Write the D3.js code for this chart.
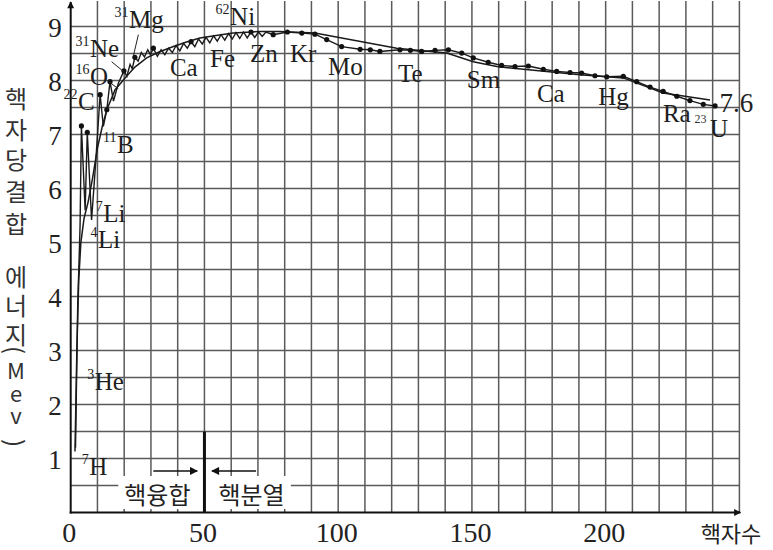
<!DOCTYPE html>
<html><head><meta charset="utf-8">
<script src="https://cdn.jsdelivr.net/npm/d3@7"></script>
<style>
html,body{margin:0;padding:0;background:#fff;}
svg{display:block;}
</style></head>
<body>
<svg id="c" width="773" height="550"></svg>
<script>
// ---------- data ----------
const xTicks = [0, 50, 100, 150, 200];
const yTicks = [1, 2, 3, 4, 5, 6, 7, 8, 9];
const xLabel = "핵자수";
const yTitleChars = ["핵","자","당","결","합","에","너","지","(","M","e","v",")"];

// smooth envelope curve
const smoothA  = [1.6,2.3,3.0,3.8,5.0,6.5,8.2,10,11.8,13.5,16.6,20.9,24,28.4,33,38.4,43,48.3,55,60.7,70.8,78,91.3,121.9,140.6,150.5,159.3,175,190.4,206.6,221.5,239];
const smoothBE = [1.13,3.0,4.3,5.0,5.45,5.75,6.2,6.75,7.15,7.46,7.83,8.08,8.25,8.42,8.53,8.63,8.71,8.79,8.84,8.88,8.91,8.91,8.88,8.6,8.51,8.35,8.26,8.18,8.11,8.05,7.77,7.64];

// measured nuclei line (zig-zag)
const dataA  = [1.8,2.6,3.5,4.0,5.4,6.2,7.8,9.3,11.0,12.2,13.5,14.7,16.0,17.8,19.9,21,22.2,23,24,25.2,26.4,27.6,28.8,29.8,30.9,
  32.4,33.8,35.2,36.6,38.0,39.4,40.8,42.2,43.6,45.0,46.4,47.8,49.2,50.6,52.0,53.4,54.8,56.2,57.6,59.0,60.4,61.8,63.2,64.6,66.0,67.4,68.8,70.2,71.6,73.0,
  75.7,81,86.4,91.3,95.7,101.3,108.2,112,115.6,123.1,127,131.2,136.2,141.2,146.2,150.5,156.1,161.1,166.1,171.1,176.7,181.7,186.7,191,196,200.4,206.6,211.6,216.6,221.5,226.6,231.5,236.5,240.9];
const dataBE = [1.2,3.8,5.3,7.16,5.6,7.04,5.42,6.45,7.74,7.15,7.46,7.98,7.62,7.95,8.18,8.08,8.3,8.22,8.43,8.36,8.52,8.44,8.57,8.48,8.6,
  8.45,8.57,8.48,8.6,8.52,8.65,8.55,8.69,8.6,8.72,8.63,8.77,8.68,8.8,8.7,8.83,8.73,8.85,8.75,8.87,8.77,8.89,8.78,8.9,8.79,8.9,8.8,8.9,8.82,8.9,
  8.85,8.9,8.88,8.86,8.76,8.63,8.58,8.57,8.54,8.57,8.56,8.54,8.56,8.57,8.51,8.42,8.34,8.28,8.26,8.27,8.21,8.17,8.15,8.14,8.09,8.07,8.08,7.98,7.88,7.80,7.71,7.63,7.56,7.53];

// marked nuclei (dots)
const dotA  = [4.0,6.2,11.0,13.5,14.7,19.9,24,30.9,45.0,67.4,75.7,81,86.4,91.3,95.7,101.3,108.2,112,115.6,123.1,127,131.2,136.2,141.2,146.2,150.5,156.1,161.1,166.1,171.1,176.7,181.7,186.7,191,196,200.4,206.6,211.6,216.6,221.5,226.6,231.5,236.5,240.9];
const dotBE = [7.16,7.04,7.74,7.46,7.98,8.18,8.43,8.6,8.72,8.9,8.85,8.9,8.88,8.86,8.76,8.63,8.58,8.57,8.54,8.57,8.56,8.54,8.56,8.57,8.51,8.42,8.34,8.28,8.26,8.27,8.21,8.17,8.15,8.14,8.09,8.07,8.08,7.98,7.88,7.80,7.71,7.63,7.56,7.53];

// element labels: name, mass-number superscript, anchor (A, BE)
const labelName = ["Ni","Mg","Ne","O","C","B","Li","Li","He","H","Ca","Fe","Zn","Kr","Mo","Te","Sm","Ca","Hg","Ra","U"];
const labelSup  = ["62","31","31","16","22","11","7","4","3","7","","","","","","","","","","",""];
const labelA    = [59.6,21.8,7.2,7.2,2.7,17.3,12.2,10.2,9.0,6.9,37.1,52.1,67.0,82.0,96.2,122.4,148.1,174.3,197.2,221.4,239.0];
const labelBE   = [9.03,8.98,8.44,7.92,7.46,6.66,5.38,4.90,2.27,0.69,8.09,8.26,8.35,8.35,8.11,7.98,7.87,7.61,7.55,7.24,6.96];
// leader lines (A1,BE1,A2,BE2)
const leaders = [[15.3,8.35,19.7,8.17],[25.3,8.85,23.4,8.45],[14.2,7.98,17.8,7.85]];

const endValue = "7.6";
const fusionText = "핵융합", fissionText = "핵분열";

// ---------- drawing ----------
const svg = d3.select("#c");
const x = d3.scaleLinear().domain([0, 250]).range([70.7, 739.4]);
const y = d3.scaleLinear().domain([0, 9]).range([512.5, 26.6]);
const topPx = 1;
const gridColor = "#5a5a5a";
const serif = "'Liberation Serif','DejaVu Serif',serif";
const kfont = "'Noto Sans CJK KR','Noto Sans',sans-serif";

const g = svg.append("g");
// grid
g.selectAll("line.v").data(d3.range(10, 251, 10)).join("line")
  .attr("x1", d => x(d)).attr("x2", d => x(d))
  .attr("y1", y(0)).attr("y2", topPx)
  .attr("stroke", gridColor).attr("stroke-width", 1.5);
g.selectAll("line.h").data(d3.range(0.5, 9.01, 0.5)).join("line")
  .attr("x1", x(0)).attr("x2", x(250))
  .attr("y1", d => y(d)).attr("y2", d => y(d))
  .attr("stroke", gridColor).attr("stroke-width", 1.5);

// white patch behind fusion/fission labels
g.append("rect").attr("x", x(17.8)).attr("y", 476).attr("width", x(82.3) - x(17.8)).attr("height", 33).attr("fill", "#fff");

// arrow markers
const defs = svg.append("defs");
defs.append("marker").attr("id", "ah").attr("viewBox", "0 0 10 10")
  .attr("refX", 9).attr("refY", 5).attr("markerWidth", 9).attr("markerHeight", 7)
  .attr("markerUnits", "userSpaceOnUse").attr("orient", "auto")
  .append("path").attr("d", "M0,0L10,5L0,10z").attr("fill", "#111");
defs.append("marker").attr("id", "ah2").attr("viewBox", "0 0 10 10")
  .attr("refX", 9).attr("refY", 5).attr("markerWidth", 10).attr("markerHeight", 8)
  .attr("markerUnits", "userSpaceOnUse").attr("orient", "auto")
  .append("path").attr("d", "M0,0L10,5L0,10z").attr("fill", "#111");

g.append("line").attr("x1", x(0)).attr("x2", x(0)).attr("y1", y(0) + 1).attr("y2", 2)
  .attr("stroke", "#111").attr("stroke-width", 2).attr("marker-end", "url(#ah)");
g.append("line").attr("x1", x(0) - 1).attr("x2", x(250) + 1).attr("y1", y(0)).attr("y2", y(0))
  .attr("stroke", "#111").attr("stroke-width", 2).attr("marker-end", "url(#ah)");

// tick labels via d3 axes
const ax = svg.append("g").attr("transform", `translate(0,${y(0)})`)
  .call(d3.axisBottom(x).tickValues(xTicks).tickSize(0).tickPadding(10).tickFormat(d3.format("d")));
ax.select(".domain").remove();
ax.selectAll("text").attr("font-family", serif).attr("font-size", 28).attr("fill", "#222").attr("dx", -2);

const ay = svg.append("g").attr("transform", `translate(${x(0)},0)`)
  .call(d3.axisLeft(y).tickValues(yTicks).tickSize(0).tickPadding(9).tickFormat(d3.format("d")));
ay.select(".domain").remove();
ay.selectAll("text").attr("font-family", serif).attr("font-size", 27).attr("fill", "#222").attr("dy", "0.38em");

// curves
const smooth = smoothA.map((a, i) => [a, smoothBE[i]]);
const meas = dataA.map((a, i) => [a, dataBE[i]]);
const line = d3.line().x(d => x(d[0])).y(d => y(d[1]));
g.append("path").attr("d", line(smooth)).attr("fill", "none").attr("stroke", "#1a1a1a").attr("stroke-width", 1.5);
g.append("path").attr("d", line(meas)).attr("fill", "none").attr("stroke", "#1a1a1a").attr("stroke-width", 1.4);
g.selectAll("circle.d").data(dotA.map((a, i) => [a, dotBE[i]])).join("circle")
  .attr("cx", d => x(d[0])).attr("cy", d => y(d[1])).attr("r", 2.6).attr("fill", "#111");

// leader lines
g.selectAll("line.ld").data(leaders).join("line")
  .attr("x1", d => x(d[0])).attr("y1", d => y(d[1])).attr("x2", d => x(d[2])).attr("y2", d => y(d[3]))
  .attr("stroke", "#222").attr("stroke-width", 1);

// element labels
labelName.forEach((n, i) => {
  const px = x(labelA[i]), py = y(labelBE[i]);
  svg.append("text").attr("x", px).attr("y", py).text(n)
    .attr("font-family", serif).attr("font-size", 25).attr("fill", "#1e1e1e");
  if (labelSup[i]) {
    svg.append("text").attr("x", px - 0.5).attr("y", py - 11).text(labelSup[i])
      .attr("text-anchor", "end").attr("font-family", serif).attr("font-size", 14).attr("fill", "#222");
  }
});
// small "23" before U and end value
svg.append("text").attr("x", x(233.2)).attr("y", y(7.22)).text("23")
  .attr("font-family", serif).attr("font-size", 12).attr("fill", "#333");
svg.append("text").attr("x", x(242.6)).attr("y", y(7.42)).text(endValue)
  .attr("font-family", serif).attr("font-size", 27).attr("fill", "#222");

// fusion / fission marker
g.append("line").attr("x1", x(50)).attr("x2", x(50)).attr("y1", y(0)).attr("y2", y(1.5))
  .attr("stroke", "#111").attr("stroke-width", 3);
g.append("line").attr("x1", x(30.9)).attr("x2", x(47.3)).attr("y1", y(0.77)).attr("y2", y(0.77))
  .attr("stroke", "#111").attr("stroke-width", 1.5).attr("marker-end", "url(#ah2)");
g.append("line").attr("x1", x(69.3)).attr("x2", x(52.8)).attr("y1", y(0.77)).attr("y2", y(0.77))
  .attr("stroke", "#111").attr("stroke-width", 1.5).attr("marker-end", "url(#ah2)");
svg.append("text").attr("x", x(32.4)).attr("y", y(0.15)).attr("text-anchor", "middle").text(fusionText)
  .attr("font-family", kfont).attr("font-size", 24).attr("fill", "#222");
svg.append("text").attr("x", x(67.6)).attr("y", y(0.15)).attr("text-anchor", "middle").text(fissionText)
  .attr("font-family", kfont).attr("font-size", 24).attr("fill", "#222");

// x-axis title
svg.append("text").attr("x", 731).attr("y", 542).attr("text-anchor", "middle").text(xLabel)
  .attr("font-family", kfont).attr("font-size", 22).attr("fill", "#222");

// y-axis title, stacked vertically
const charY = [97, 128, 158, 190, 222, 275, 304, 333, 350, 369, 392, 414, 443];
yTitleChars.forEach((ch, i) => {
  const latin = /[a-zA-Z]/.test(ch);
  const paren = ch === "(" || ch === ")";
  const t = svg.append("text").attr("x", 16).attr("y", charY[i]).text(ch)
    .attr("text-anchor", "middle").attr("dominant-baseline", "central")
    .attr("font-family", kfont).attr("font-size", paren ? 24 : (latin ? 22 : 24)).attr("fill", "#333");
  if (paren) t.attr("transform", `rotate(90,16,${charY[i]})`);
});
</script>
</body></html>
